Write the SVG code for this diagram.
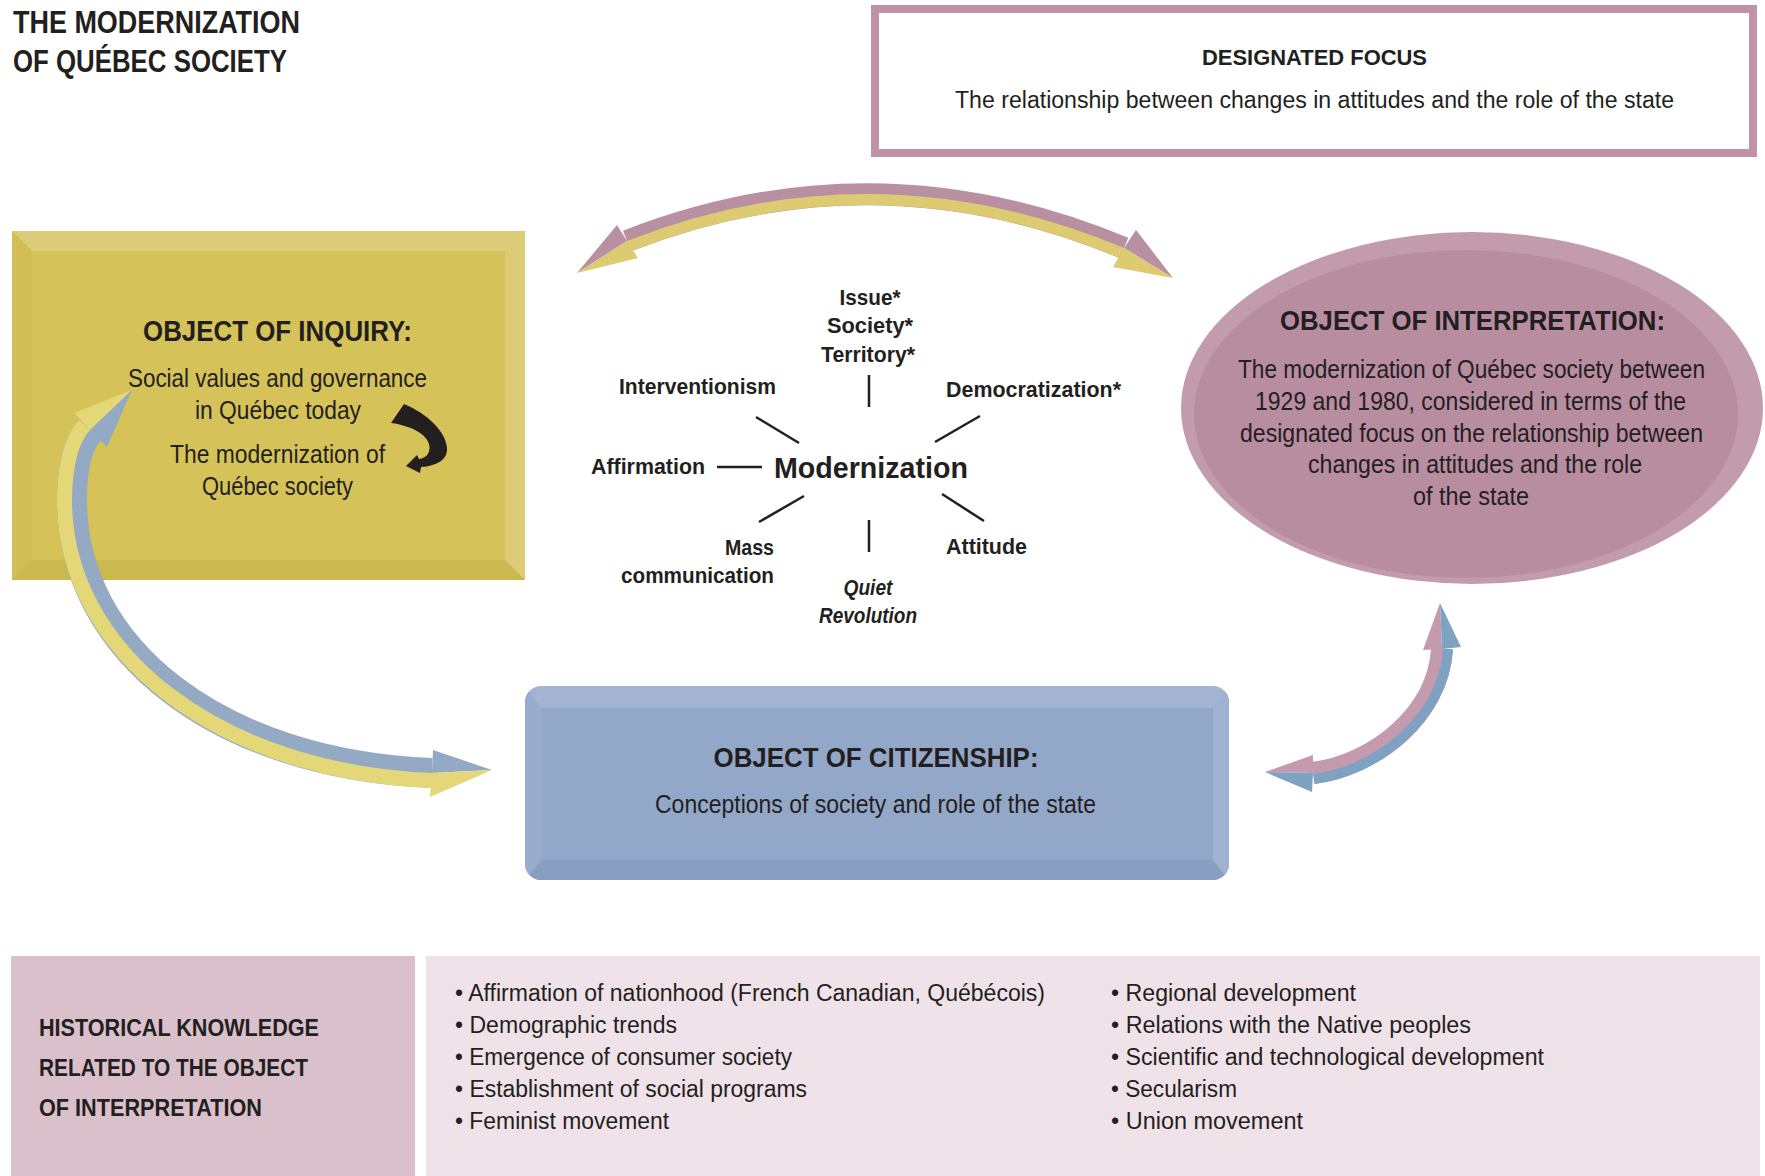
<svg xmlns="http://www.w3.org/2000/svg" width="1765" height="1176" viewBox="0 0 1765 1176">
<style>
text{fill:#231f20;font-family:"Liberation Sans Narrow","Liberation Sans",Arial,sans-serif;}
.b{font-weight:bold;}
.t{font-size:25px;}
.s{font-size:22px;font-weight:bold;}
.h{font-size:28px;font-weight:bold;}
.bl{font-size:23px;}
.ttl{font-family:"Liberation Sans",Arial,sans-serif;font-size:32px;font-weight:bold;}
.ln{stroke:#231f20;stroke-width:2.5;fill:none;}
</style>
<defs>
<clipPath id="cbClip"><rect x="525" y="686" width="704" height="194" rx="16"/></clipPath>
</defs>
<rect x="0" y="0" width="1765" height="1176" fill="#ffffff"/>

<g id="title">
<text class="ttl" x="13" y="33" textLength="287" lengthAdjust="spacingAndGlyphs">THE MODERNIZATION</text>
<text class="ttl" x="13" y="72" textLength="274" lengthAdjust="spacingAndGlyphs">OF QUÉBEC SOCIETY</text>
</g>

<g id="designated-focus">
<rect x="875" y="9" width="878" height="144" fill="#ffffff" stroke="#bf92a5" stroke-width="8"/>
<text class="b" style="font-size:22px" x="1202" y="65" textLength="225" lengthAdjust="spacingAndGlyphs">DESIGNATED FOCUS</text>
<text style="font-size:23px" x="955" y="108" textLength="719" lengthAdjust="spacingAndGlyphs">The relationship between changes in attitudes and the role of the state</text>
</g>

<g id="object-of-inquiry">
<rect x="12" y="231" width="513" height="349" fill="#d5c35a"/>
<polygon points="12,231 525,231 505,251 32,251" fill="#ddcd79"/>
<polygon points="525,231 525,580 505,560 505,251" fill="#ddcc76"/>
<polygon points="12,580 525,580 505,560 32,560" fill="#cbb84f"/>
<polygon points="12,231 32,251 32,560 12,580" fill="#d1be55"/>
<text class="b" style="font-size:29px" x="143" y="341" textLength="269" lengthAdjust="spacingAndGlyphs">OBJECT OF INQUIRY:</text>
<text class="t" x="128" y="387" textLength="299" lengthAdjust="spacingAndGlyphs">Social values and governance</text>
<text class="t" x="195" y="419" textLength="166" lengthAdjust="spacingAndGlyphs">in Québec today</text>
<text class="t" x="170" y="463" textLength="215" lengthAdjust="spacingAndGlyphs">The modernization of</text>
<text class="t" x="202" y="495" textLength="151" lengthAdjust="spacingAndGlyphs">Québec society</text>
<path d="M391,423 L404,404 C428,414 446,432 447,448 C448,460 436,466 421,467 L420,473 L406,466 L417,455 L419,459 C427,458 431,452 429,444 C426,434 412,426 391,423 Z" fill="#231f20"/>
</g>

<g id="object-of-interpretation">
<ellipse cx="1472" cy="408" rx="291" ry="176" fill="#c29cad"/>
<ellipse cx="1466" cy="414" rx="272" ry="164" fill="#b88da0"/>
<text class="h" x="1280" y="330" textLength="385" lengthAdjust="spacingAndGlyphs">OBJECT OF INTERPRETATION:</text>
<text class="t" x="1238" y="378" textLength="467" lengthAdjust="spacingAndGlyphs">The modernization of Québec society between</text>
<text class="t" x="1255" y="410" textLength="431" lengthAdjust="spacingAndGlyphs">1929 and 1980, considered in terms of the</text>
<text class="t" x="1240" y="442" textLength="463" lengthAdjust="spacingAndGlyphs">designated focus on the relationship between</text>
<text class="t" x="1308" y="473" textLength="334" lengthAdjust="spacingAndGlyphs">changes in attitudes and the role</text>
<text class="t" x="1413" y="505" textLength="116" lengthAdjust="spacingAndGlyphs">of the state</text>
</g>

<g id="object-of-citizenship">
<g clip-path="url(#cbClip)">
<rect x="525" y="686" width="704" height="194" fill="#a3b4d3"/>
<polygon points="525,880 1229,880 1213,860 541,860" fill="#8a9ec3"/>
<polygon points="1229,686 1229,880 1213,860 1213,708" fill="#a0b1d1"/>
<polygon points="525,686 541,708 541,860 525,880" fill="#99accd"/>
<rect x="541" y="708" width="672" height="152" fill="#93a7c9"/>
</g>
<text class="h" x="713.5" y="767" textLength="325" lengthAdjust="spacingAndGlyphs">OBJECT OF CITIZENSHIP:</text>
<text class="t" x="655" y="813" textLength="441" lengthAdjust="spacingAndGlyphs">Conceptions of society and role of the state</text>
</g>

<g id="concept-star">
<text class="b" style="font-size:30px" x="774" y="478" textLength="194" lengthAdjust="spacingAndGlyphs">Modernization</text>
<text class="s" x="839.5" y="305" textLength="61" lengthAdjust="spacingAndGlyphs">Issue*</text>
<text class="s" x="827" y="333" textLength="86" lengthAdjust="spacingAndGlyphs">Society*</text>
<text class="s" x="821" y="362" textLength="94" lengthAdjust="spacingAndGlyphs">Territory*</text>
<text class="s" x="619" y="394" textLength="157" lengthAdjust="spacingAndGlyphs">Interventionism</text>
<text class="s" x="946" y="397" textLength="175" lengthAdjust="spacingAndGlyphs">Democratization*</text>
<text class="s" x="591" y="474" textLength="114" lengthAdjust="spacingAndGlyphs">Affirmation</text>
<text class="s" x="725" y="555" textLength="49" lengthAdjust="spacingAndGlyphs">Mass</text>
<text class="s" x="621" y="583" textLength="153" lengthAdjust="spacingAndGlyphs">communication</text>
<text class="s" x="946" y="554" textLength="81" lengthAdjust="spacingAndGlyphs">Attitude</text>
<text class="s" style="font-style:italic" x="843.5" y="595" textLength="49" lengthAdjust="spacingAndGlyphs">Quiet</text>
<text class="s" style="font-style:italic" x="819" y="623" textLength="98" lengthAdjust="spacingAndGlyphs">Revolution</text>
<line class="ln" x1="869" y1="375" x2="869" y2="407"/>
<line class="ln" x1="756" y1="417" x2="799" y2="443"/>
<line class="ln" x1="980" y1="416" x2="935" y2="442"/>
<line class="ln" x1="717" y1="467" x2="762" y2="467"/>
<line class="ln" x1="804" y1="496" x2="759" y2="522"/>
<line class="ln" x1="869" y1="520" x2="869" y2="552"/>
<line class="ln" x1="942" y1="494" x2="984" y2="521"/>
</g>

<g id="historical-knowledge">
<rect x="11" y="956" width="404" height="220" fill="#d9c0cb"/>
<rect x="426" y="956" width="1334" height="220" fill="#efe3e9"/>
<text class="b bl" x="39" y="1036" textLength="280" lengthAdjust="spacingAndGlyphs">HISTORICAL KNOWLEDGE</text>
<text class="b bl" x="39" y="1076" textLength="269" lengthAdjust="spacingAndGlyphs">RELATED TO THE OBJECT</text>
<text class="b bl" x="39" y="1116" textLength="223" lengthAdjust="spacingAndGlyphs">OF INTERPRETATION</text>
<text class="bl" x="455" y="1001" textLength="590" lengthAdjust="spacingAndGlyphs">• Affirmation of nationhood (French Canadian, Québécois)</text>
<text class="bl" x="455" y="1033" textLength="222" lengthAdjust="spacingAndGlyphs">• Demographic trends</text>
<text class="bl" x="455" y="1065" textLength="337" lengthAdjust="spacingAndGlyphs">• Emergence of consumer society</text>
<text class="bl" x="455" y="1097" textLength="352" lengthAdjust="spacingAndGlyphs">• Establishment of social programs</text>
<text class="bl" x="455" y="1129" textLength="214" lengthAdjust="spacingAndGlyphs">• Feminist movement</text>
<text class="bl" x="1111" y="1001" textLength="245" lengthAdjust="spacingAndGlyphs">• Regional development</text>
<text class="bl" x="1111" y="1033" textLength="360" lengthAdjust="spacingAndGlyphs">• Relations with the Native peoples</text>
<text class="bl" x="1111" y="1065" textLength="433" lengthAdjust="spacingAndGlyphs">• Scientific and technological development</text>
<text class="bl" x="1111" y="1097" textLength="126" lengthAdjust="spacingAndGlyphs">• Secularism</text>
<text class="bl" x="1111" y="1129" textLength="192" lengthAdjust="spacingAndGlyphs">• Union movement</text>
</g>

<g id="connectors">
<g id="arrow-inquiry-interpretation">
<path d="M627,241 Q875,144 1124,248" fill="none" stroke="#b98fa2" stroke-width="22"/>
<path d="M629,246 Q874.5,149.5 1122,253" fill="none" stroke="#dccb70" stroke-width="11"/>
<polygon points="577,273 617,225 627,241" fill="#b98fa2"/>
<polygon points="577,273 627,241 638,258" fill="#dccb70"/>
<polygon points="1173,278 1136,230 1124,248" fill="#b98fa2"/>
<polygon points="1173,278 1124,248 1113,267" fill="#dccb70"/>
</g>
<g id="arrow-inquiry-citizenship">
<path d="M90,430 Q72,450 72,500 C72,650 220,765 432,773" fill="none" stroke="#94aac4" stroke-width="30"/>
<path d="M84.5,425 Q65,446 64.5,500 C64.5,652 218,772 432,780.5" fill="none" stroke="#e4d777" stroke-width="15"/>
<polygon points="132,390 74,413 90,430" fill="#e4d777"/>
<polygon points="132,390 90,430 107,447" fill="#94aac4"/>
<polygon points="492,770 433,750 432,773" fill="#94aac4"/>
<polygon points="492,770 432,773 430,797" fill="#e4d777"/>
</g>
<g id="arrow-citizenship-interpretation">
<path d="M1442,649 C1438,715 1375,765 1313,773" fill="none" stroke="#c49aae" stroke-width="22"/>
<path d="M1448,649 C1444,717 1378,771 1314,779" fill="none" stroke="#7fa2c3" stroke-width="10"/>
<polygon points="1440,603 1423,650 1442,649" fill="#c49aae"/>
<polygon points="1440,603 1442,649 1461,647" fill="#7fa2c3"/>
<polygon points="1265,772 1313,755 1313,773" fill="#c49aae"/>
<polygon points="1265,772 1313,773 1312,792" fill="#7fa2c3"/>
</g>
</g>
</svg>
